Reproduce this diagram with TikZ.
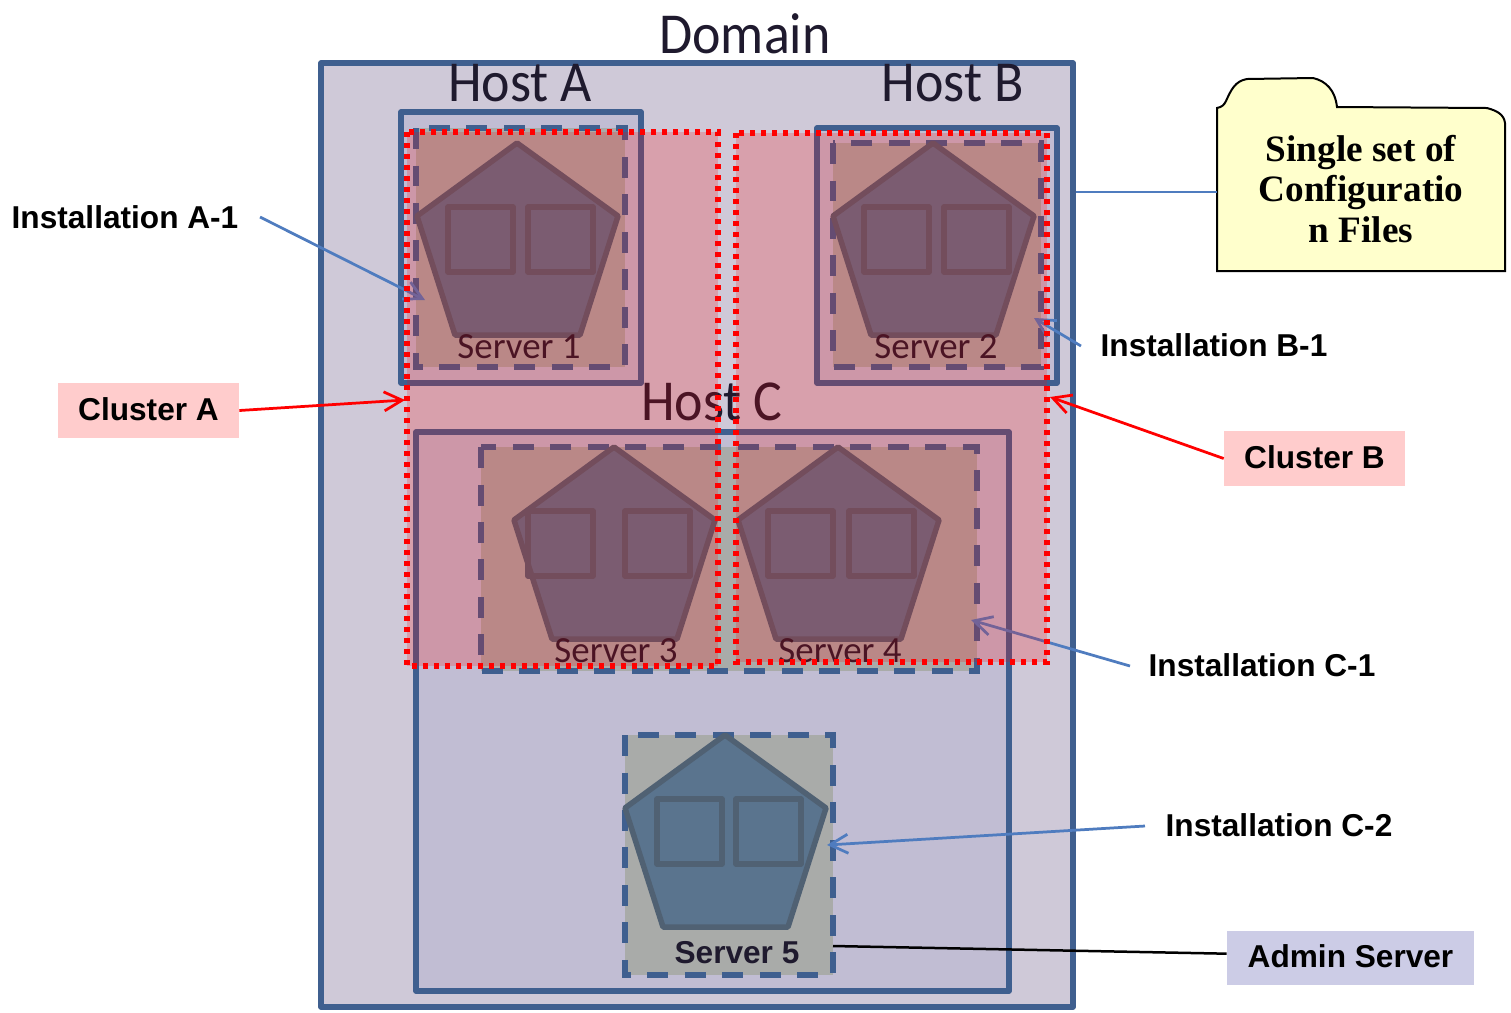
\documentclass[tikz,border=0pt]{standalone}
\usepackage{fontspec}
\setmainfont{Liberation Sans}
\newfontfamily\hostfont{Carlito}
\newfontfamily\titlefont[FakeStretch=0.93]{Carlito}
\newfontfamily\folderfont{Liberation Serif}
\usetikzlibrary{arrows.meta}
\definecolor{domainfill}{HTML}{CFC9D8}
\definecolor{hostfill}{HTML}{C1BDD3}
\definecolor{serverfill}{HTML}{A9ABA9}
\definecolor{pentfill}{HTML}{5A748E}
\definecolor{pentline}{HTML}{506173}
\definecolor{frameline}{HTML}{3F5F8F}
\definecolor{darktext}{HTML}{1F1A2E}
\definecolor{pointer}{HTML}{4F7CBF}
\definecolor{clusterlabel}{HTML}{FFCCCC}
\definecolor{adminlabel}{HTML}{CCCCE6}
\definecolor{folderfill}{HTML}{FFFFCC}
\begin{document}
\begin{tikzpicture}[x=0.02cm,y=-0.02cm,
  framebox/.style = {draw=frameline, line width=0.11cm, line join=round},
  serverbox/.style = {draw=frameline, fill=serverfill, line width=0.11cm, dash pattern=on 0.42cm off 0.33cm},
  pentbox/.style = {draw=pentline, line width=0.11cm, line join=round},
  clusterbox/.style = {draw=red, fill=red, fill opacity=0.2, draw opacity=1, line width=0.12cm, dash pattern=on 0.1cm off 0.12cm},
  hostlabel/.style = {font=\titlefont\fontsize{33}{33}\selectfont, text=darktext},
  serverlabel/.style = {font=\hostfont\fontsize{21}{21}\selectfont, text=darktext},
  calllabel/.style = {font=\bfseries\fontsize{18}{18}\selectfont, text=black, inner sep=0pt},
  tagbox/.style = {calllabel, text depth=2pt, minimum width=3.62cm, minimum height=1.1cm},
  callarrow/.style = {pointer, line width=0.055cm, -{Straight Barb[length=0.36cm,width=0.38cm]}},
  redarrow/.style = {red, line width=0.055cm, -{Straight Barb[length=0.36cm,width=0.38cm]}}]
\useasboundingbox (0,0) rectangle (1511,1012);
\node[framebox, fill=domainfill, inner sep=0pt, minimum width=15.04cm, minimum height=18.88cm] (domain) at (697,535) {};
\node[hostlabel] (domaintitle) at (745,34) {Domain};
\node[hostlabel] (hosta) at (520,83) {Host A};
\node[hostlabel] (hostb) at (953,83) {Host B};
\fill[hostfill, framebox] (401,112) rectangle (641,383);
\fill[hostfill, framebox] (817,128) rectangle (1057,383);
\fill[hostfill, framebox] (416,432) rectangle (1009,991);
\node[hostlabel] (hostc) at (712,402) {Host C};
\draw[serverbox] (416,128) rectangle (625,367);
\draw[serverbox] (833,143) rectangle (1041,367);
\draw[serverbox] (481,447) rectangle (977,671);
\draw[serverbox] (625,735) rectangle (833,975);
\foreach \px/\py/\wina in {517/143/-69, 933/143/-69, 614/447/-86, 838/447/-70, 725/735/-68} {
  \fill[pentfill, pentbox] (\px,\py) -- (\px+101,\py+73) -- (\px+63,\py+192) -- (\px-62,\py+192) -- (\px-100,\py+73) -- cycle;
  \draw[pentbox] (\px+\wina,\py+64) rectangle (\px+\wina+65,\py+129);
  \draw[pentbox] (\px+11,\py+64) rectangle (\px+76,\py+129);
}
\node[serverlabel] (server1) at (519,347) {Server 1};
\node[serverlabel] (server2) at (936,347) {Server 2};
\node[serverlabel] (server3) at (616,651) {Server 3};
\node[serverlabel] (server4) at (840,651) {Server 4};
\node[calllabel, text=darktext] (server5) at (737,953) {Server 5};
\node[calllabel] (insta) at (125,217) {Installation A-1};
\node[calllabel] (instb) at (1214,345) {Installation B-1};
\node[calllabel] (instc) at (1262,665) {Installation C-1};
\node[calllabel] (instd) at (1279,825) {Installation C-2};
\coordinate (insta end) at (425,300);
\coordinate (instb end) at (1034,318);
\coordinate (instc end) at (971,620);
\coordinate (instd end) at (827,845);
\coordinate (clustera end) at (405,400);
\coordinate (clusterb end) at (1050,397);
\coordinate (admin end) at (833,946);
\draw[callarrow] (260,217) -- (insta end);
\draw[callarrow] (1081,346) -- (instb end);
\draw[callarrow] (1130,666) -- (instc end);
\draw[callarrow] (1145,826) -- (instd end);
\draw[clusterbox] (407,132) rectangle (718,666);
\draw[clusterbox] (736,133) rectangle (1047,662);
\node[tagbox, fill=clusterlabel] (clustera) at (148.5,410.5) {Cluster A};
\node[tagbox, fill=clusterlabel] (clusterb) at (1314.5,458.5) {Cluster B};
\node[calllabel, fill=adminlabel, text depth=2pt, minimum width=4.94cm, minimum height=1.08cm] (admin) at (1350.5,958) {Admin Server};
\draw[redarrow] (clustera.east) -- (clustera end);
\draw[redarrow] (clusterb.west) -- (clusterb end);
\draw[black, line width=0.05cm] (admin.178) -- (admin end);
\fill[folderfill, draw=black, line width=0.04cm] (1217,271) -- (1217,108) .. controls (1222,107) and (1224,105) .. (1226,101) .. controls (1231,90) and (1235,81) .. (1247,79) -- (1313,78) .. controls (1326,81) and (1335,90) .. (1337,107) -- (1487,108) .. controls (1498,111) and (1504,115) .. (1505,123) -- (1505,271) -- cycle;
\node[font=\folderfont\bfseries\fontsize{21.2}{23.2}\selectfont, align=flush center, text width=5.76cm, inner sep=0pt] (config) at (1361,189) {Single set of\\Configuratio\\n Files};
\draw[pointer, line width=0.04cm] (domain.east |- config.181) -- (config.181);
\end{tikzpicture}
\end{document}
